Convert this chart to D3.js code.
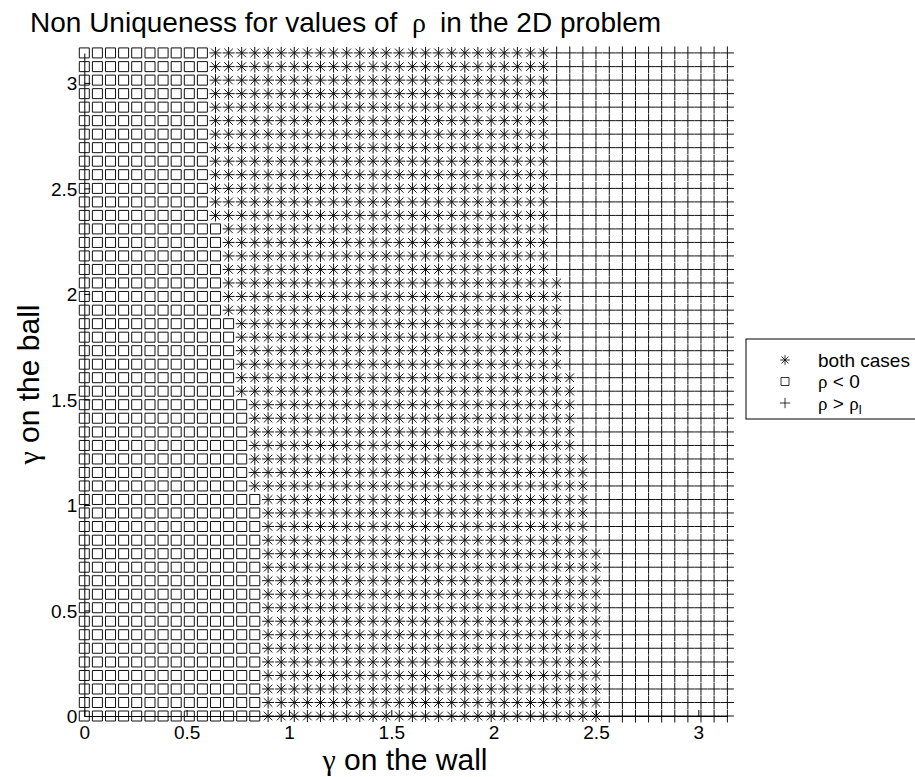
<!DOCTYPE html>
<html>
<head>
<meta charset="utf-8">
<script src="https://d3js.org/d3.v7.min.js"></script>
<style>
  body { margin: 0; background: #fff; }
  svg text { font-family: "Liberation Sans", Arial, sans-serif; fill: #000; }
  .greek { font-family: "Liberation Serif", "Times New Roman", serif; }
</style>
</head>
<body>
<svg id="chart" width="915" height="777"></svg>
<script>
// gamma grid used on both axes (0 .. pi, 50 points)
const gammaGrid = [
  0.000, 0.064, 0.128, 0.192, 0.256, 0.321, 0.385, 0.449, 0.513, 0.577,
  0.641, 0.705, 0.769, 0.833, 0.898, 0.962, 1.026, 1.090, 1.154, 1.218,
  1.282, 1.346, 1.411, 1.475, 1.539, 1.603, 1.667, 1.731, 1.795, 1.859,
  1.923, 1.988, 2.052, 2.116, 2.180, 2.244, 2.308, 2.372, 2.436, 2.500,
  2.565, 2.629, 2.693, 2.757, 2.821, 2.885, 2.949, 3.013, 3.077, 3.142
];

// for each row (gamma on the ball, bottom to top): first column that is "both cases"
const bothFrom = [
  14, 14, 14, 14, 14, 14, 14, 14, 14, 14,
  14, 14, 14, 14, 14, 14, 14, 13, 13, 13,
  13, 13, 13, 13, 12, 12, 12, 12, 12, 12,
  11, 11, 11, 11, 11, 11, 11, 10, 10, 10,
  10, 10, 10, 10, 10, 10, 10, 10, 10, 10
];

// for each row: first column that is "rho > rho_l" only
const plusFrom = [
  40, 40, 40, 40, 40, 40, 40, 40, 40, 40,
  40, 40, 40, 39, 39, 39, 39, 39, 39, 39,
  38, 38, 38, 38, 38, 38, 37, 37, 37, 37,
  37, 37, 37, 36, 36, 36, 36, 36, 36, 36,
  36, 36, 36, 36, 36, 36, 36, 36, 36, 36
];

const xTicks = [0, 0.5, 1, 1.5, 2, 2.5, 3];
const yTicks = [0, 0.5, 1, 1.5, 2, 2.5, 3];
const legendKinds = ["both", "neg", "plus"];

const svg = d3.select("#chart");

const x = d3.scaleLinear().domain([0, Math.PI]).range([84.3, 727.3]);
const y = d3.scaleLinear().domain([0, Math.PI]).range([716, 53]);

const symbols = {
  neg: "M-5,-5h10v10h-10z",
  plus: "M-6.5,0h13M0,-6.5v13",
  both: "M-6,0h12M0,-6v12M-4.3,-4.3l8.6,8.6M-4.3,4.3l8.6,-8.6"
};

const cells = [];
gammaGrid.forEach((gBall, j) => {
  gammaGrid.forEach((gWall, i) => {
    let kind = "plus";
    if (i < bothFrom[j]) kind = "neg";
    else if (i < plusFrom[j]) kind = "both";
    cells.push({ gWall, gBall, kind });
  });
});

// markers
svg.append("g")
  .selectAll("path")
  .data(cells)
  .join("path")
  .attr("transform", d => `translate(${x(d.gWall)},${y(d.gBall)})`)
  .attr("d", d => symbols[d.kind])
  .attr("fill", "none")
  .attr("stroke", "#111")
  .attr("stroke-width", 1);

// axes
const xAxis = d3.axisBottom(x)
  .tickValues(xTicks)
  .tickFormat(d3.format("~g"))
  .tickSizeInner(-6)
  .tickSizeOuter(0)
  .tickPadding(10);

const yAxis = d3.axisLeft(y)
  .tickValues(yTicks)
  .tickFormat(d3.format("~g"))
  .tickSizeInner(-6)
  .tickSizeOuter(0)
  .tickPadding(7);

const gx = svg.append("g").attr("transform", `translate(0,${y(0)})`).call(xAxis);
const gy = svg.append("g").attr("transform", `translate(${x(0)},0)`).call(yAxis);

[gx, gy].forEach(g => {
  g.attr("font-family", null).attr("font-size", null);
  g.selectAll("text").attr("font-size", 19).attr("fill", "#000");
  g.selectAll("line, path").attr("stroke", "#000");
});
gy.selectAll("text").attr("dy", "0.36em");

// title
const title = svg.append("text")
  .attr("x", 30)
  .attr("y", 32)
  .attr("font-size", 28);
title.append("tspan").text("Non Uniqueness for values of ");
title.append("tspan").attr("class", "greek").text("\u00a0ρ\u00a0 ");
title.append("tspan").text("in the 2D problem");

// axis titles
const xt = svg.append("text")
  .attr("x", 405)
  .attr("y", 770)
  .attr("text-anchor", "middle")
  .attr("font-size", 30);
xt.append("tspan").attr("class", "greek").text("γ");
xt.append("tspan").text(" on the wall");

const yt = svg.append("text")
  .attr("transform", `translate(39,${y(Math.PI / 2)}) rotate(-90)`)
  .attr("text-anchor", "middle")
  .attr("font-size", 30);
yt.append("tspan").attr("class", "greek").text("γ");
yt.append("tspan").text(" on the ball");

// legend
const legend = svg.append("g").attr("transform", "translate(746,339)");
legend.append("rect")
  .attr("width", 175)
  .attr("height", 80)
  .attr("fill", "#fff")
  .attr("stroke", "#000");

const rows = legend.selectAll("g.item")
  .data(legendKinds)
  .join("g")
  .attr("class", "item")
  .attr("transform", (d, i) => `translate(39,${21 + i * 21.5})`);

rows.append("path")
  .attr("d", d => symbols[d])
  .attr("transform", "scale(0.8)")
  .attr("fill", "none")
  .attr("stroke", "#000");

const labels = rows.append("text")
  .attr("x", 33)
  .attr("dy", "0.36em")
  .attr("font-size", 19);

labels.filter(d => d === "both").text("both cases");
labels.filter(d => d === "neg").call(t => {
  t.append("tspan").attr("class", "greek").text("ρ");
  t.append("tspan").text(" < 0");
});
labels.filter(d => d === "plus").call(t => {
  t.append("tspan").attr("class", "greek").text("ρ");
  t.append("tspan").text(" > ");
  t.append("tspan").attr("class", "greek").text("ρ");
  t.append("tspan").attr("dy", "0.3em").attr("font-size", 13).text("l");
});
</script>
</body>
</html>
